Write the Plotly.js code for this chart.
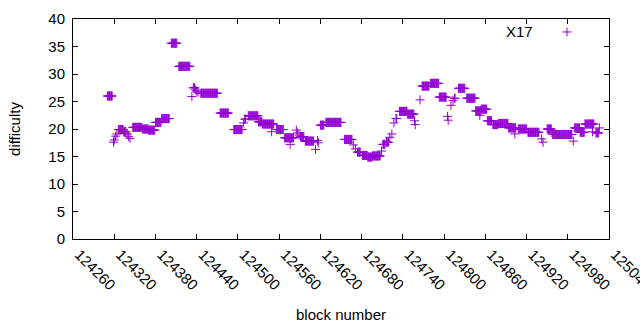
<!DOCTYPE html>
<html>
<head>
<meta charset="utf-8">
<script src="https://cdn.plot.ly/plotly-3.0.1.min.js"></script>
<style>html,body{margin:0;padding:0;background:#fff}#chart{width:640px;height:330px}</style>
</head>
<body>
<div id="chart"></div>
<script>
// Runs of blocks sharing one difficulty value
const runStart = [124310,124319,124320,124322,124324,124326,124334,124339,124341,124343,
  124347,124361,124370,124380,124389,124403,124414,124433,124435,124438,
  124440,124442,124446,124474,124494,124508,124510,124515,124530,124536,
  124549,124556,124568,124576,124585,124587,124589,124591,124598,124613,
  124616,124617,124620,124628,124655,124668,124671,124674,124681,124689,
  124696,124709,124711,124716,124721,124724,124727,124730,124735,124747,
  124757,124758,124765,124768,124780,124793,124805,124806,124810,124813,
  124815,124821,124833,124846,124852,124854,124863,124871,124879,124894,
  124903,124908,124922,124942,124944,124950,124957,124958,124988,124990,
  124998,125005,125016,125021,125026];
const runEnd = [124317,124319,124320,124322,124324,124333,124337,124339,124341,124343,
  124360,124369,124379,124388,124400,124411,124430,124433,124437,124438,
  124440,124442,124470,124486,124506,124508,124511,124529,124535,124552,
  124549,124566,124581,124576,124585,124587,124589,124596,124610,124613,
  124616,124617,124625,124650,124666,124668,124671,124678,124688,124695,
  124707,124709,124714,124719,124721,124724,124727,124731,124746,124756,
  124757,124758,124765,124778,124792,124803,124805,124806,124810,124813,
  124816,124830,124845,124853,124852,124862,124869,124878,124893,124904,
  124903,124920,124938,124942,124944,124956,124957,124986,124988,124997,
  125004,125018,125016,125025,125026];
const runDifficulty = [26.0,17.6,18.0,18.7,19.1,19.9,19.5,19.1,18.6,18.3,
  20.3,20.0,19.8,21.2,21.9,35.6,31.4,25.9,27.5,27.1,
  26.9,26.7,26.5,22.9,19.9,21.1,21.8,22.4,21.3,20.9,
  19.5,19.9,18.4,17.2,19.8,19.3,18.9,18.6,17.8,16.3,
  17.9,17.5,20.7,21.2,18.1,17.1,16.4,15.8,15.2,14.9,
  15.1,16.0,17.2,17.6,18.5,19.1,21.1,21.9,23.2,22.7,
  21.5,20.8,25.3,27.8,28.3,25.8,22.3,21.6,24.3,25.2,
  25.6,27.4,25.6,23.3,22.5,23.6,21.5,20.8,21.0,20.2,
  19.1,20.0,19.4,18.2,17.6,20.0,19.3,19.0,17.8,20.2,
  19.4,20.9,19.5,19.3,20.2];
const xTicks = [124260,124320,124380,124440,124500,124560,124620,124680,124740,124800,124860,124920,124980,125040];
const yTicks = [0,5,10,15,20,25,30,35,40];
const seriesName = 'X17';

const blocks = [], diffs = [];
for (let i = 0; i < runStart.length; i++) {
  for (let b = runStart[i]; b <= runEnd[i]; b++) { blocks.push(b); diffs.push(runDifficulty[i]); }
}

const purple = '#9400d3';
const font = {family: 'Liberation Sans, Arial, sans-serif', size: 15, color: '#000'};

const trace = {
  x: blocks, y: diffs, type: 'scatter', mode: 'markers', name: seriesName,
  marker: {symbol: 'cross-thin', size: 6.5, color: purple, line: {color: purple, width: 1}},
  showlegend: false, hoverinfo: 'skip', cliponaxis: false
};

const axisCommon = {
  showline: true, linecolor: '#000', linewidth: 1, mirror: 'allticks',
  ticks: 'inside', ticklen: 5, tickcolor: '#000', tickwidth: 1,
  showgrid: false, zeroline: false, automargin: false, tickfont: font,
  ticklabeloverflow: 'allow'
};

const layout = {
  width: 640, height: 330,
  margin: {l: 73, r: 31, t: 19, b: 91},
  paper_bgcolor: '#fff', plot_bgcolor: '#fff',
  font: font,
  xaxis: Object.assign({}, axisCommon, {
    range: [xTicks[0], xTicks[xTicks.length-1]],
    tickmode: 'array', tickvals: xTicks, ticktext: xTicks.map(String),
    tickangle: 45, ticklabelshift: 6,
    title: {text: 'block number', font: font, standoff: 17}
  }),
  yaxis: Object.assign({}, axisCommon, {
    range: [yTicks[0], yTicks[yTicks.length-1]],
    tickmode: 'array', tickvals: yTicks, ticktext: yTicks.map(String),
    ticklabelstandoff: 4,
    title: {text: 'difficulty', font: font, standoff: 24}
  }),
  annotations: [
    {xref: 'paper', yref: 'paper', x: 0.862, y: 0.945, text: seriesName, showarrow: false,
     xanchor: 'right', yanchor: 'middle', font: font}
  ],
  shapes: [
    {type: 'line', xref: 'paper', yref: 'paper', x0: 0.9132, x1: 0.930, y0: 0.941, y1: 0.941, line: {color: purple, width: 1}},
    {type: 'line', xref: 'paper', yref: 'paper', x0: 0.9216, x1: 0.9216, y0: 0.9205, y1: 0.9615, line: {color: purple, width: 1}}
  ]
};

Plotly.newPlot('chart', [trace], layout, {staticPlot: true, displayModeBar: false});
</script>
</body>
</html>
